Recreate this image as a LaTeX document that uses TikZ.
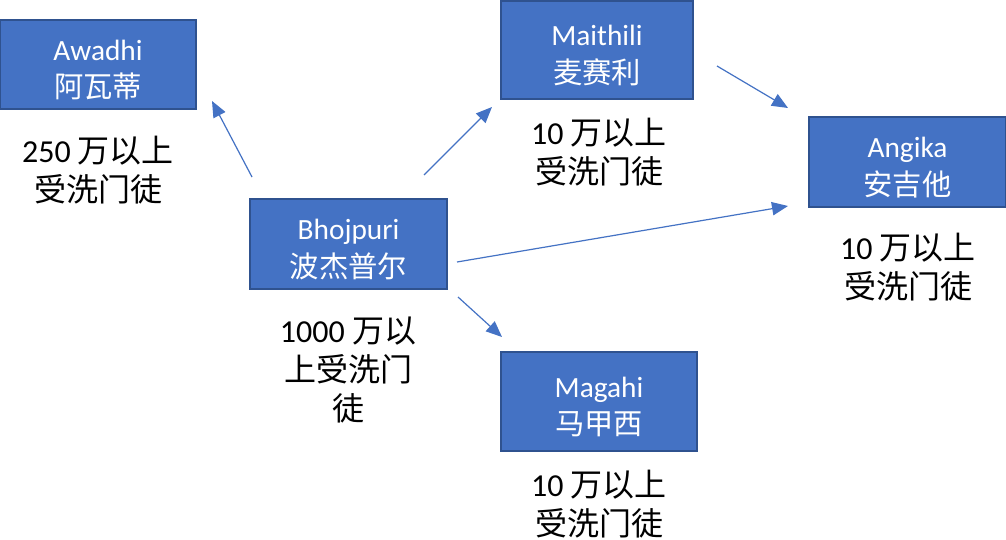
\documentclass[tikz,border=0pt]{standalone}
\usepackage{fontspec}
\setmainfont{Carlito}
\newfontfamily\cjk{Noto Sans CJK SC}
\usetikzlibrary{arrows.meta}
\definecolor{boxblue}{HTML}{4472C4}
\definecolor{boxedge}{HTML}{2F528F}
\begin{document}
\begin{tikzpicture}[x=0.75pt,y=-0.75pt,
 langbox/.style={draw=boxedge, line width=1.2pt, fill=boxblue, inner sep=0pt},
 boxtext/.style={text=white, align=center, font=\fontsize{22}{28}\selectfont, inner sep=0pt},
 count/.style={align=center, font=\fontsize{24}{29.5}\selectfont, text=black, inner sep=0pt},
 link/.style={draw=boxblue, line width=0.9pt, -{Triangle[length=12pt,width=10pt]}}]
\useasboundingbox (0,0) rectangle (1006,539);
\fill[white] (0,0) rectangle (1006,539);

\node[langbox, minimum width=147pt, minimum height=66.75pt] (awadhi) at (98,64.5) {};
\node[boxtext] (awadhiT) at (98,70) {Awadhi\\{\cjk 阿瓦蒂}};
\node[langbox, minimum width=147.75pt, minimum height=67.5pt] (bhojpuri) at (348.5,244) {};
\node[boxtext] (bhojpuriT) at (348.5,249.5) {Bhojpuri\\{\cjk 波杰普尔}};
\node[langbox, minimum width=144pt, minimum height=73.5pt] (maithili) at (597,50) {};
\node[boxtext] (maithiliT) at (597,55.5) {Maithili\\{\cjk 麦赛利}};
\node[langbox, minimum width=147.75pt, minimum height=67.5pt] (angika) at (907.5,162) {};
\node[boxtext] (angikaT) at (907.5,167.5) {Angika\\{\cjk 安吉他}};
\node[langbox, minimum width=147pt, minimum height=74.25pt] (magahi) at (599,401.5) {};
\node[boxtext] (magahiT) at (599,407) {Magahi\\{\cjk 马甲西}};

\node[count] (awadhiN) at (98,170) {250 {\cjk 万以上}\\{\cjk 受洗门徒}};
\node[count] (bhojpuriN) at (348,370) {1000 {\cjk 万以}\\{\cjk 上受洗门}\\{\cjk 徒}};
\node[count] (maithiliN) at (599,152) {10 {\cjk 万以上}\\{\cjk 受洗门徒}};
\node[count] (angikaN) at (908,267) {10 {\cjk 万以上}\\{\cjk 受洗门徒}};
\node[count] (magahiN) at (599,504) {10 {\cjk 万以上}\\{\cjk 受洗门徒}};

\coordinate (bA) at (252,177);
\coordinate (aA) at (212,101);
\coordinate (bM) at (424,175);
\coordinate (mB) at (492,107);
\coordinate (mG) at (717,66);
\coordinate (gM) at (788,108);
\coordinate (bG) at (457,262);
\coordinate (gB) at (788,206);
\coordinate (bH) at (458,297);
\coordinate (hB) at (502,337);

\draw[link] (bA) -- (aA);
\draw[link] (bM) -- (mB);
\draw[link] (mG) -- (gM);
\draw[link] (bG) -- (gB);
\draw[link] (bH) -- (hB);
\end{tikzpicture}
\end{document}
